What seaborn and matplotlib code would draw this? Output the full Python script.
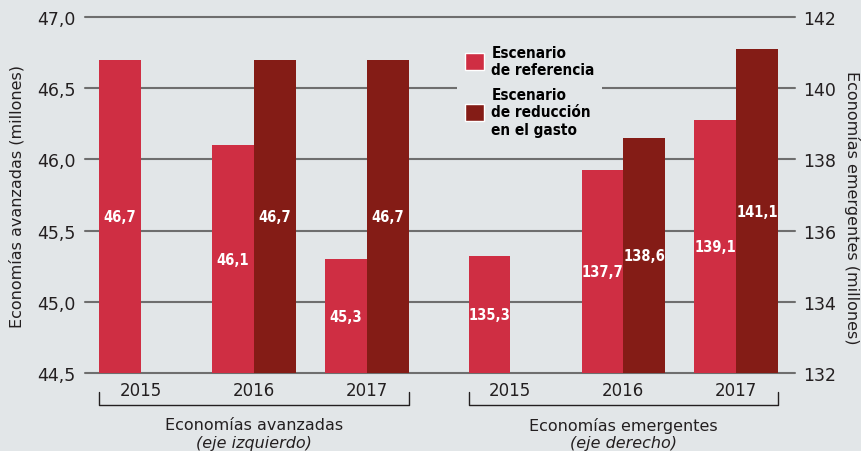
import matplotlib.pyplot as plt
import matplotlib.transforms as mtransforms
import pandas as pd
import seaborn as sns
from matplotlib.patches import Patch
from matplotlib.ticker import FuncFormatter
from matplotlib import font_manager

# Data
years = ["2015", "2016", "2017"]
scenarios = ["Escenario\nde referencia", "Escenario\nde reducción\nen el gasto"]
adv_ref = [46.7, 46.1, 45.3]
adv_cut = [None, 46.7, 46.7]
em_ref = [135.3, 137.7, 139.1]
em_cut = [None, 138.6, 141.1]
left_ticks = [44.5, 45.0, 45.5, 46.0, 46.5, 47.0]
right_ticks = [132, 134, 136, 138, 140, 142]

BG = "#e2e6e8"
RED = "#cf2e43"
DARK = "#841c16"
GRID = "#6e6e6e"
TEXT = "#231f20"

adv_pos = [0, 1, 2]
em_pos = [3.27, 4.27, 5.27]


def long_df(pos, ref, cut):
    rows = []
    for p, r, c in zip(pos, ref, cut):
        rows.append({"pos": p, "scenario": scenarios[0], "value": r})
        if c is not None:
            rows.append({"pos": p, "scenario": scenarios[1], "value": c})
    return pd.DataFrame(rows)


adv_df = long_df(adv_pos, adv_ref, adv_cut)
em_df = long_df(em_pos, em_ref, em_cut)

sns.set_theme(style="white")
plt.rcParams["font.family"] = ["DejaVu Sans"]
NARROW = font_manager.FontProperties(family="DejaVu Sans", stretch="condensed",
                                     weight="bold", size=11)

fig = plt.figure(figsize=(8.62, 4.52), dpi=100, facecolor=BG)
ax = fig.add_axes([85 / 862, 78 / 452, 710 / 862, 356 / 452])
ax.set_facecolor(BG)
ax2 = ax.twinx()

for a, df in [(ax, adv_df), (ax2, em_df)]:
    sns.barplot(data=df, x="pos", y="value", hue="scenario", hue_order=scenarios,
                palette=[RED, DARK], native_scale=True, width=0.74, saturation=1,
                errorbar=None, legend=False, linewidth=0, edgecolor="none", ax=a)

ax.set_ylim(44.5, 47.0)
ax2.set_ylim(132, 142)
ax.set_xlim(-0.496, 5.79)

ax.set_yticks(left_ticks)
ax2.set_yticks(right_ticks)
ax.yaxis.set_major_formatter(FuncFormatter(lambda v, _: f"{v:.1f}".replace(".", ",")))
ax.set_xticks(adv_pos + em_pos, years * 2)

ax.yaxis.grid(True, color=GRID, lw=1.5)
ax.xaxis.grid(False)
ax2.grid(False)
ax.set_axisbelow(True)
for gl in ax.get_ygridlines():
    gl.set_clip_on(False)

for a in (ax, ax2):
    for s in a.spines.values():
        s.set_visible(False)
    a.set_xlabel("")
    a.set_ylabel("")
ax.tick_params(axis="y", length=0, pad=7, labelsize=12.5, labelcolor=TEXT)
ax2.tick_params(axis="y", length=0, pad=6, labelsize=12.5, labelcolor=TEXT)
ax.tick_params(axis="x", length=0, pad=6, labelsize=12, labelcolor=TEXT)

# value labels in the middle of the visible part of each bar
label_font = NARROW.copy()
label_font.set_size(10.5)
for a in (ax, ax2):
    bottom = a.get_ylim()[0]
    for p in a.patches:
        h = p.get_height()
        if h <= 0:
            continue
        top = p.get_y() + h
        a.text(p.get_x() + p.get_width() / 2, (bottom + top) / 2,
               f"{top:.1f}".replace(".", ","), ha="center", va="center",
               color="white", fontproperties=label_font)

# brackets and group captions under the years
trans = mtransforms.blended_transform_factory(ax.transData, ax.transAxes)
captions = [("Economías avanzadas", "(eje izquierdo)"),
            ("Economías emergentes", "(eje derecho)")]
for a, (main, sub) in zip((ax, ax2), captions):
    xs = [p.get_x() for p in a.patches] + [p.get_x() + p.get_width() for p in a.patches]
    x0, x1 = min(xs), max(xs)
    ax.plot([x0, x0, x1, x1], [-0.053, -0.09, -0.09, -0.053], color=TEXT, lw=1,
            transform=trans, clip_on=False)
    xm = (x0 + x1) / 2
    ax.text(xm, -0.146, main, ha="center", va="center", fontsize=11.5,
            color=TEXT, transform=trans)
    ax.text(xm, -0.194, sub, ha="center", va="center", fontsize=11.5,
            style="italic", color=TEXT, transform=trans)

fig.text(17 / 862, 1 - 196 / 452, "Economías avanzadas (millones)", rotation=90,
         ha="center", va="center", fontsize=11.5, color=TEXT)
fig.text(852 / 862, 1 - 208 / 452, "Economías emergentes (millones)", rotation=270,
         ha="center", va="center", fontsize=11.5, color=TEXT)

handles = [Patch(facecolor=RED), Patch(facecolor=DARK)]
leg = ax2.legend(handles, scenarios, loc="upper left",
                 bbox_to_anchor=(457 / 862, 1 - 38 / 452),
                 bbox_transform=fig.transFigure, frameon=True, facecolor=BG,
                 edgecolor="none", framealpha=1, fancybox=False,
                 prop=NARROW, handlelength=1.3, handleheight=1.3,
                 labelspacing=0.65, handletextpad=0.45, borderpad=0.5,
                 borderaxespad=0)
for t in leg.get_texts():
    t.set_color("black")

fig.savefig("out.png", dpi=100, facecolor=BG)
